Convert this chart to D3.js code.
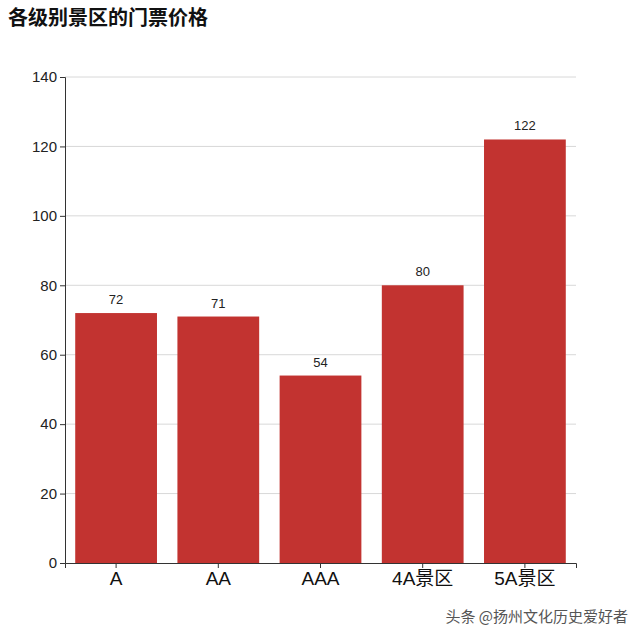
<!DOCTYPE html>
<html>
<head>
<meta charset="utf-8">
<script src="https://cdn.jsdelivr.net/npm/d3@7"></script>
<style>
  body { margin: 0; background: #fff; }
  text { font-family: "Liberation Sans", "Noto Sans CJK SC", sans-serif; }
</style>
</head>
<body>
<div id="chart"></div>
<script>
// Chart data
const CATEGORIES = ["A", "AA", "AAA", "4A景区", "5A景区"];
const PRICES = [72, 71, 54, 80, 122];
const Y_TICKS = [0, 20, 40, 60, 80, 100, 120, 140];

const FRAME_WIDTH = 640;
const FRAME_HEIGHT = 640;
const MARGINS = {left: 65, right: 64, top: 77, bottom: 77};

const VIS_WIDTH = FRAME_WIDTH - MARGINS.left - MARGINS.right;
const VIS_HEIGHT = FRAME_HEIGHT - MARGINS.top - MARGINS.bottom;

const svg = d3.select("#chart").append("svg")
    .attr("width", FRAME_WIDTH)
    .attr("height", FRAME_HEIGHT);

// Title
svg.append("text")
    .attr("x", 8)
    .attr("y", 25)
    .attr("font-size", "20px")
    .attr("font-weight", "bold")
    .attr("fill", "#111")
    .style("font-family", "'Noto Sans CJK SC', sans-serif")
    .text("各级别景区的门票价格");

const xSCALE = d3.scaleBand()
    .domain(CATEGORIES)
    .range([0, VIS_WIDTH])
    .paddingInner(0.2)
    .paddingOuter(0.1);

const ySCALE = d3.scaleLinear()
    .domain([0, 140])
    .range([VIS_HEIGHT, 0]);

const g = svg.append("g")
    .attr("transform", "translate(" + MARGINS.left + "," + MARGINS.top + ")");

// Gridlines
g.selectAll(".grid")
    .data(Y_TICKS.filter(d => d > 0))
    .enter()
    .append("line")
    .attr("x1", 0)
    .attr("x2", VIS_WIDTH)
    .attr("y1", d => ySCALE(d))
    .attr("y2", d => ySCALE(d))
    .attr("stroke", "#d8d8d8")
    .attr("stroke-width", 1);

// Bars
g.selectAll("rect")
    .data(PRICES)
    .enter()
    .append("rect")
    .attr("x", (d, i) => xSCALE(CATEGORIES[i]))
    .attr("y", d => ySCALE(d))
    .attr("width", xSCALE.bandwidth())
    .attr("height", d => VIS_HEIGHT - ySCALE(d))
    .attr("fill", "#c23330");

// Value labels
g.selectAll(".val")
    .data(PRICES)
    .enter()
    .append("text")
    .attr("x", (d, i) => xSCALE(CATEGORIES[i]) + xSCALE.bandwidth() / 2)
    .attr("y", d => ySCALE(d) - 9)
    .attr("text-anchor", "middle")
    .attr("font-size", "13px")
    .attr("fill", "#222")
    .text(d => d);

// Y axis
const yAxis = g.append("g")
    .call(d3.axisLeft(ySCALE).tickValues(Y_TICKS).tickSize(5));
yAxis.selectAll("text").attr("font-size", "15px").attr("fill", "#222");
yAxis.selectAll("line, path").attr("stroke", "#333");

// X axis
const xAxis = g.append("g")
    .attr("transform", "translate(0," + VIS_HEIGHT + ")")
    .call(d3.axisBottom(xSCALE).tickSize(5).tickPadding(4));
xAxis.selectAll("text").attr("font-size", "19px").attr("fill", "#111");
xAxis.selectAll("line, path").attr("stroke", "#333");

// Watermark
svg.append("text")
    .attr("x", 628)
    .attr("y", 622)
    .attr("text-anchor", "end")
    .attr("font-size", "15px")
    .attr("fill", "#555")
    .style("font-family", "'Noto Sans CJK SC', sans-serif")
    .text("头条 @扬州文化历史爱好者");
</script>
</body>
</html>
